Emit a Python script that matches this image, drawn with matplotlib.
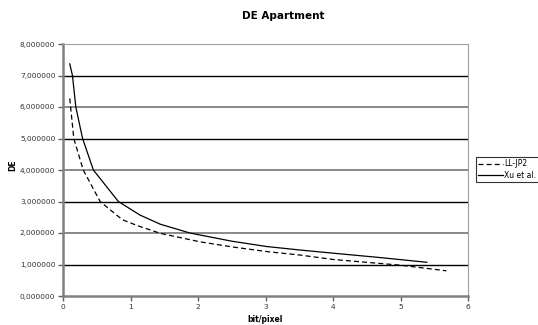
import numpy as np
import matplotlib
matplotlib.use('Agg')
import matplotlib.pyplot as plt
from matplotlib.ticker import FuncFormatter

# data
ll_x = [0.10, 0.16, 0.30, 0.55, 0.88, 1.12, 1.44, 2.03, 2.50, 3.02, 3.51, 4.00, 4.99, 5.68]
ll_y = [6.27, 5.00, 4.00, 3.00, 2.42, 2.22, 1.99, 1.72, 1.56, 1.41, 1.30, 1.16, 0.98, 0.80]

xu_x = [0.10, 0.14, 0.19, 0.29, 0.45, 0.82, 1.14, 1.44, 1.88, 2.50, 3.02, 3.51, 4.00, 4.70, 5.39]
xu_y = [7.37, 7.00, 6.00, 5.00, 4.00, 3.00, 2.57, 2.28, 2.00, 1.74, 1.57, 1.46, 1.36, 1.22, 1.07]

yticks = [0, 1, 2, 3, 4, 5, 6, 7, 8]
xticks = [0, 1, 2, 3, 4, 5, 6]

plt.rcParams['font.family'] = ['DejaVu Sans']

fig = plt.figure(figsize=(5.38, 3.25), dpi=100)
ax = fig.add_axes([63/538, 29/325, 405/538, 252/325])

# gridlines alternate black / gray like the original
for v in yticks[1:]:
    col = 'black' if v % 2 else '#808080'
    ax.axhline(v, color=col, lw=1.0 if v % 2 else 1.3, zorder=1)

ax.plot(ll_x, ll_y, color='black', lw=0.9, ls=(0, (4, 2.5)), label='LL-JP2', zorder=3)
ax.plot(xu_x, xu_y, color='black', lw=0.9, label='Xu et al.', zorder=3)

ax.set_xlim(0, 6)
ax.set_ylim(0, 8)
ax.set_xticks(xticks)
ax.set_yticks(yticks)
ax.yaxis.set_major_formatter(FuncFormatter(lambda v, p: "{:.6f}".format(v).replace('.', ',')))
ax.tick_params(labelsize=5.3, colors='#606060', length=3.5, width=1, pad=2)
ax.tick_params(axis='both', labelcolor='#333333')

for s in ['left', 'bottom']:
    ax.spines[s].set_color('#808080')
    ax.spines[s].set_linewidth(1.8)
for s in ['top', 'right']:
    ax.spines[s].set_color('#a0a0a0')
    ax.spines[s].set_linewidth(0.8)

# axis titles placed directly in figure pixels
fig.text(265/538, 1 - 319/325, 'bit/pixel', fontsize=5.5, fontweight='bold',
         ha='center', va='center')
fig.text(13/538, 1 - 165/325, 'DE', fontsize=5.5, fontweight='bold',
         ha='center', va='center', rotation=90)
fig.text(283/538, 1 - 16/325, 'DE Apartment', fontsize=7.5, fontweight='bold',
         ha='center', va='center')

leg = fig.legend(loc='upper left', bbox_to_anchor=(476/538, 1 - 157/325),
                 fontsize=5.5, frameon=True, fancybox=False, handlelength=3.2,
                 handletextpad=0.2, borderpad=0.3, labelspacing=0.35,
                 borderaxespad=0)
leg.get_frame().set_edgecolor('black')
leg.get_frame().set_linewidth(0.8)

fig.savefig('out.png', dpi=100)
